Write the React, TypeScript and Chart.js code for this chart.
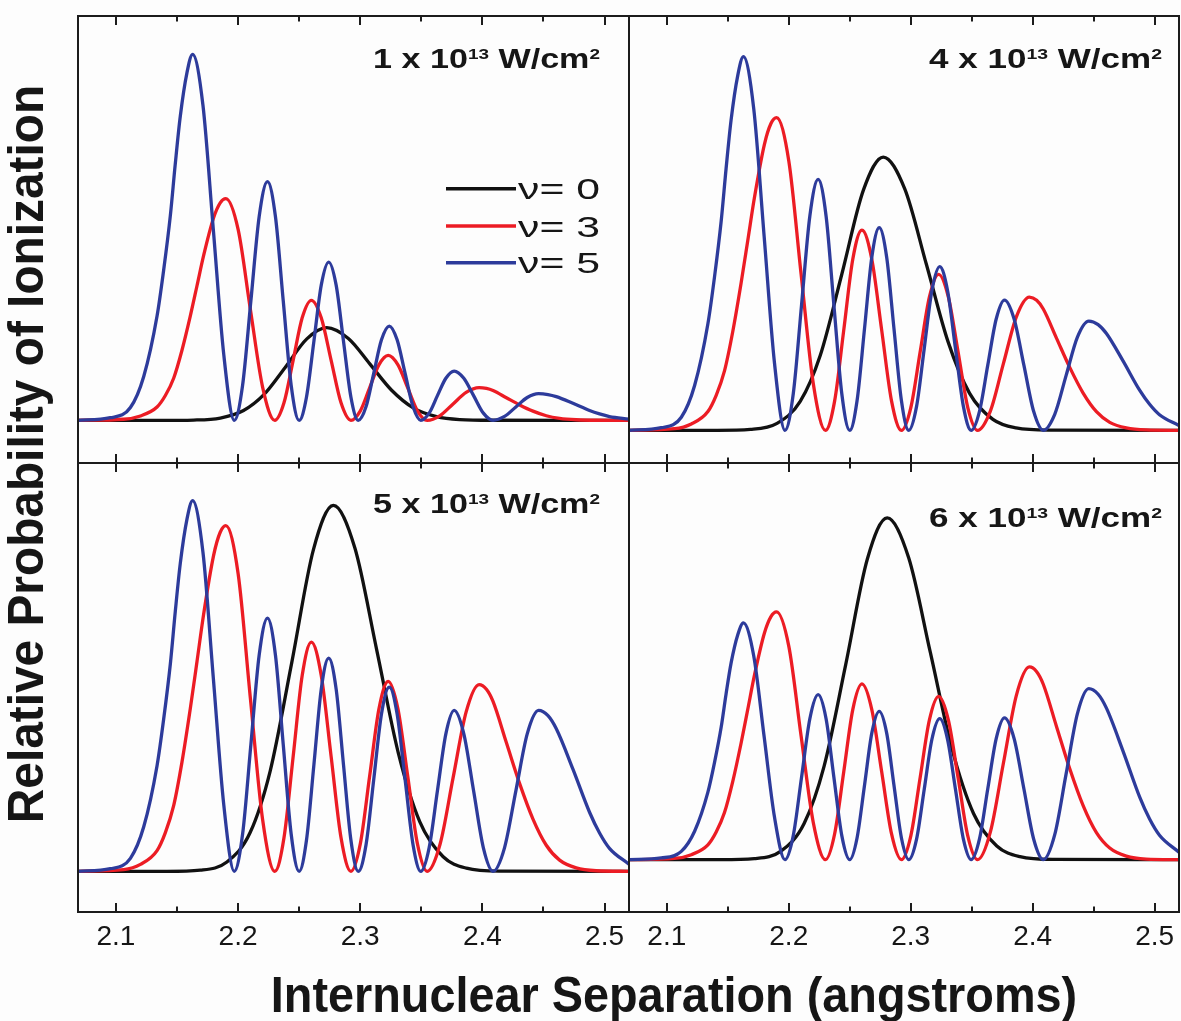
import React, { useEffect, useLayoutEffect, useRef } from 'react';
import { Chart, registerables } from 'chart.js';

Chart.register(...registerables);

// ---------- data ----------
const X_MIN = 2.069;
const X_MAX = 2.52;
const MAJOR_TICKS = [2.1, 2.2, 2.3, 2.4, 2.5];
const MINOR_TICKS = [2.15, 2.25, 2.35, 2.45];
const SERIES_LABELS = ['ν= 0', 'ν= 3', 'ν= 5'];
const INTENSITY_PREFIX = ['1', '4', '5', '6'];

// v = 5 (shared sample positions, angstroms)
const X_V5 = [2.069, 2.0955, 2.1119, 2.1228, 2.1337, 2.1391, 2.1446, 2.1486, 2.1527, 2.1582, 2.1628,
  2.1713, 2.1798, 2.1883, 2.1969,
  2.2037, 2.2105, 2.2173, 2.2241, 2.2306, 2.237, 2.2435, 2.25,
  2.256, 2.2621, 2.2681, 2.2742, 2.2803, 2.2863, 2.2924, 2.2984,
  2.3048, 2.3111, 2.3174, 2.3238, 2.3302, 2.3367, 2.3432, 2.3496,
  2.3564, 2.3632, 2.3701, 2.3769, 2.3848, 2.3928, 2.4008, 2.4087,
  2.4181, 2.4274, 2.4367, 2.446, 2.4537, 2.4605, 2.4741, 2.4877, 2.4959, 2.504, 2.52];
const V5_1E13 = [0, 0.026, 0.128, 0.439, 1.043, 1.501, 2.05, 2.562, 3.038, 3.477, 3.66,
  3.148, 1.903, 0.659, 0,
  0.349, 1.194, 2.038, 2.387, 2.038, 1.194, 0.349, 0,
  0.231, 0.792, 1.352, 1.583, 1.352, 0.792, 0.231, 0,
  0.138, 0.472, 0.805, 0.943, 0.805, 0.472, 0.138, 0,
  0.072, 0.247, 0.421, 0.493, 0.421, 0.247, 0.072, 0,
  0.039, 0.134, 0.228, 0.267, 0.258, 0.237, 0.17, 0.098, 0.064, 0.038, 0.012];
const V5_4E13 = [0, 0.026, 0.131, 0.448, 1.065, 1.532, 2.093, 2.616, 3.102, 3.55, 3.737,
  3.214, 1.943, 0.673, 0,
  0.366, 1.255, 2.144, 2.51, 2.144, 1.255, 0.366, 0,
  0.296, 1.014, 1.731, 2.027, 1.731, 1.014, 0.296, 0,
  0.239, 0.819, 1.398, 1.637, 1.398, 0.819, 0.239, 0,
  0.19, 0.652, 1.113, 1.303, 1.113, 0.652, 0.19, 0,
  0.16, 0.547, 0.933, 1.093, 1.057, 0.968, 0.694, 0.401, 0.26, 0.156, 0.048];
const V5_5E13 = [0, 0.026, 0.13, 0.445, 1.056, 1.52, 2.076, 2.595, 3.077, 3.522, 3.707,
  3.188, 1.928, 0.667, 0,
  0.37, 1.267, 2.163, 2.533, 2.163, 1.267, 0.37, 0,
  0.311, 1.067, 1.822, 2.133, 1.822, 1.067, 0.311, 0,
  0.269, 0.922, 1.574, 1.843, 1.574, 0.922, 0.269, 0,
  0.235, 0.805, 1.375, 1.61, 1.375, 0.805, 0.235, 0,
  0.235, 0.805, 1.375, 1.61, 1.557, 1.426, 1.022, 0.591, 0.383, 0.23, 0.071];
const V5_6E13 = [0, 0.017, 0.083, 0.284, 0.675, 0.97, 1.326, 1.657, 1.965, 2.249, 2.367,
  2.036, 1.231, 0.426, 0,
  0.241, 0.825, 1.409, 1.65, 1.409, 0.825, 0.241, 0,
  0.217, 0.742, 1.266, 1.483, 1.266, 0.742, 0.217, 0,
  0.206, 0.705, 1.204, 1.41, 1.204, 0.705, 0.206, 0,
  0.207, 0.709, 1.21, 1.417, 1.21, 0.709, 0.207, 0,
  0.25, 0.855, 1.46, 1.71, 1.654, 1.515, 1.086, 0.628, 0.407, 0.245, 0.075];

// v = 3
const X_V3 = [2.069, 2.1064, 2.1201, 2.1337, 2.1405, 2.1473, 2.1541, 2.1609, 2.1664, 2.1718, 2.18, 2.1854, 2.19,
  2.2001, 2.2101, 2.2201, 2.2301,
  2.2376, 2.2451, 2.2525, 2.26, 2.2681, 2.2762, 2.2843, 2.2924,
  2.3001, 2.3077, 2.3153, 2.3229, 2.3309, 2.3389, 2.3468, 2.3548,
  2.3654, 2.376, 2.3867, 2.3973,
  2.4033, 2.4087, 2.4196, 2.4305, 2.4414, 2.4523, 2.4632, 2.4768, 2.4931, 2.52];
const V3_1E13 = [0, 0.011, 0.044, 0.133, 0.248, 0.421, 0.701, 1.042, 1.346, 1.647, 2.026, 2.175, 2.217,
  1.907, 1.109, 0.333, 0,
  0.175, 0.6, 1.025, 1.2, 1.025, 0.6, 0.175, 0,
  0.095, 0.325, 0.555, 0.65, 0.555, 0.325, 0.095, 0,
  0.048, 0.164, 0.279, 0.327,
  0.319, 0.298, 0.226, 0.154, 0.092, 0.046, 0.02, 0.006, 0.001, 0];
const V3_4E13 = [0, 0.016, 0.063, 0.188, 0.35, 0.594, 0.988, 1.47, 1.898, 2.323, 2.858, 3.068, 3.127,
  2.689, 1.564, 0.469, 0,
  0.292, 1.002, 1.711, 2.003, 1.711, 1.002, 0.292, 0,
  0.228, 0.78, 1.332, 1.56, 1.332, 0.78, 0.228, 0,
  0.195, 0.667, 1.138, 1.333,
  1.3, 1.213, 0.92, 0.627, 0.373, 0.187, 0.08, 0.024, 0.004, 0];
const V3_5E13 = [0, 0.017, 0.069, 0.207, 0.387, 0.657, 1.092, 1.625, 2.098, 2.569, 3.16, 3.391, 3.457,
  2.973, 1.729, 0.519, 0,
  0.335, 1.147, 1.958, 2.293, 1.958, 1.147, 0.335, 0,
  0.277, 0.95, 1.623, 1.9, 1.623, 0.95, 0.277, 0,
  0.273, 0.934, 1.594, 1.867,
  1.82, 1.699, 1.288, 0.877, 0.523, 0.261, 0.112, 0.034, 0.006, 0];
const V3_6E13 = [0, 0.012, 0.05, 0.149, 0.277, 0.471, 0.783, 1.164, 1.504, 1.84, 2.264, 2.43, 2.477,
  2.13, 1.239, 0.372, 0,
  0.257, 0.879, 1.5, 1.757, 1.5, 0.879, 0.257, 0,
  0.238, 0.817, 1.395, 1.633, 1.395, 0.817, 0.238, 0,
  0.281, 0.964, 1.646, 1.927,
  1.879, 1.754, 1.33, 0.906, 0.54, 0.27, 0.116, 0.035, 0.006, 0];

// v = 0
const X_V0_1E13 = [2.069, 2.1364, 2.1637, 2.1855, 2.2045, 2.2209, 2.2386, 2.2563, 2.2726, 2.2903, 2.308, 2.3257, 2.3434, 2.3625, 2.3815, 2.4088, 2.52];
const V0_1E13 = [0, 0, 0.003, 0.023, 0.098, 0.254, 0.529, 0.815, 0.927, 0.818, 0.562, 0.301, 0.125, 0.037, 0.008, 0.001, 0];
const X_V0_4E13 = [2.069, 2.1413, 2.1686, 2.1904, 2.2094, 2.2258, 2.2435, 2.2612, 2.2775, 2.2952, 2.3129, 2.3306, 2.3483, 2.3674, 2.3864, 2.4137, 2.52];
const V0_4E13 = [0, 0, 0.009, 0.069, 0.29, 0.749, 1.561, 2.402, 2.733, 2.412, 1.658, 0.887, 0.37, 0.109, 0.024, 0.002, 0];
const X_V0_5E13 = [2.069, 2.1418, 2.1691, 2.1909, 2.2099, 2.2263, 2.244, 2.2617, 2.278, 2.2957, 2.3134, 2.3311, 2.3488, 2.3679, 2.3869, 2.4142, 2.52];
const V0_5E13 = [0, 0, 0.012, 0.093, 0.388, 1.003, 2.09, 3.217, 3.66, 3.23, 2.22, 1.188, 0.495, 0.146, 0.032, 0.002, 0];
const X_V0_6E13 = [2.069, 2.1445, 2.1718, 2.1936, 2.2126, 2.229, 2.2467, 2.2644, 2.2807, 2.2984, 2.3161, 2.3338, 2.3515, 2.3706, 2.3896, 2.4169, 2.52];
const V0_6E13 = [0, 0, 0.011, 0.086, 0.362, 0.936, 1.951, 3.004, 3.417, 3.016, 2.072, 1.11, 0.462, 0.137, 0.03, 0.002, 0];

// ---------- styling / layout ----------
const FONT = '"Liberation Sans", Arial, Helvetica, sans-serif';
const COLOR_V0 = '#111111';
const COLOR_V3 = '#ec1c24';
const COLOR_V5 = '#2d3b9b';
const FRAME = '#1c1c1c';
const TEXT = '#161616';
const PAD = 10;
const AXIS_H = 50;

type Panel = {
  prefix: string;
  x0: number[]; v0: number[]; v3: number[]; v5: number[];
  yMin: number; yMax: number;
  box: { left: number; top: number; right: number; bottom: number };
  showAxis: boolean;
  label: { right: number; base: number; width: number };
  legend: boolean;
};

const PANELS: Panel[] = [
  { prefix: INTENSITY_PREFIX[0], x0: X_V0_1E13, v0: V0_1E13, v3: V3_1E13, v5: V5_1E13, yMin: -0.4267, yMax: 4.0433,
    box: { left: 78, top: 16, right: 629, bottom: 463 }, showAxis: false, label: { right: 600, base: 68, width: 227 }, legend: true },
  { prefix: INTENSITY_PREFIX[1], x0: X_V0_4E13, v0: V0_4E13, v3: V3_4E13, v5: V5_4E13, yMin: -0.3267, yMax: 4.1433,
    box: { left: 629, top: 16, right: 1179, bottom: 463 }, showAxis: false, label: { right: 1162, base: 68, width: 233 }, legend: false },
  { prefix: INTENSITY_PREFIX[2], x0: X_V0_5E13, v0: V0_5E13, v3: V3_5E13, v5: V5_5E13, yMin: -0.4067, yMax: 4.0833,
    box: { left: 78, top: 463, right: 629, bottom: 912 }, showAxis: true, label: { right: 600, base: 513, width: 227 }, legend: false },
  { prefix: INTENSITY_PREFIX[3], x0: X_V0_6E13, v0: V0_6E13, v3: V3_6E13, v5: V5_6E13, yMin: -0.5233, yMax: 3.9667,
    box: { left: 629, top: 463, right: 1179, bottom: 912 }, showAxis: true, label: { right: 1162, base: 526.5, width: 233 }, legend: false },
];

function drawIntensity(ctx: CanvasRenderingContext2D, prefix: string, right: number, base: number, target: number) {
  const segs = [
    { t: prefix + ' x 10', s: 27, r: 0 },
    { t: '13', s: 15, r: 8.6 },
    { t: ' W/cm', s: 27, r: 0 },
    { t: '2', s: 15, r: 8.6 },
  ];
  const widths = segs.map((sg) => {
    ctx.font = `bold ${sg.s}px ${FONT}`;
    return ctx.measureText(sg.t).width;
  });
  const total = widths.reduce((a, b) => a + b, 0);
  const sc = target / total;
  ctx.save();
  ctx.translate(right, base);
  ctx.scale(sc, 1);
  ctx.fillStyle = TEXT;
  ctx.textBaseline = 'alphabetic';
  ctx.textAlign = 'left';
  let x = -total;
  segs.forEach((sg, i) => {
    ctx.font = `bold ${sg.s}px ${FONT}`;
    ctx.fillText(sg.t, x, -sg.r);
    x += widths[i];
  });
  ctx.restore();
}

function drawLegend(ctx: CanvasRenderingContext2D, offX: number, offY: number) {
  const rows = [
    { y: 188.7, c: COLOR_V0, t: SERIES_LABELS[0] },
    { y: 226, c: COLOR_V3, t: SERIES_LABELS[1] },
    { y: 262.7, c: COLOR_V5, t: SERIES_LABELS[2] },
  ];
  ctx.save();
  rows.forEach((r) => {
    const y = r.y - offY;
    ctx.strokeStyle = r.c;
    ctx.lineWidth = 3.5;
    ctx.beginPath();
    ctx.moveTo(446 - offX, y);
    ctx.lineTo(516 - offX, y);
    ctx.stroke();
    ctx.font = `30px ${FONT}`;
    const w = ctx.measureText(r.t).width;
    ctx.save();
    ctx.translate(518 - offX, y + 10.7);
    ctx.scale(82 / w, 1);
    ctx.fillStyle = TEXT;
    ctx.textBaseline = 'alphabetic';
    ctx.fillText(r.t, 0, 0);
    ctx.restore();
  });
  ctx.restore();
}

function makeDecor(p: Panel, offX: number, offY: number) {
  return {
    id: 'panelDecor',
    afterDraw(chart: any) {
      const { ctx, chartArea: a } = chart;
      const xs = chart.scales.x;
      ctx.save();
      ctx.strokeStyle = FRAME;
      ctx.lineWidth = 2;
      ctx.strokeRect(a.left, a.top, a.right - a.left, a.bottom - a.top);
      const tick = (v: number, len: number) => {
        const px = Math.round(xs.getPixelForValue(v));
        ctx.beginPath();
        ctx.moveTo(px, a.top);
        ctx.lineTo(px, a.top + len);
        ctx.moveTo(px, a.bottom);
        ctx.lineTo(px, a.bottom - len);
        ctx.stroke();
      };
      MAJOR_TICKS.forEach((v) => tick(v, 9));
      MINOR_TICKS.forEach((v) => tick(v, 5.5));
      drawIntensity(ctx, p.prefix, p.label.right - offX, p.label.base - offY, p.label.width);
      if (p.legend) drawLegend(ctx, offX, offY);
      ctx.restore();
    },
  };
}

function PanelChart({ p }: { p: Panel }) {
  const ref = useRef<HTMLCanvasElement>(null);
  const offX = p.box.left - PAD;
  const offY = p.box.top - PAD;
  const width = p.box.right - p.box.left + 2 * PAD;
  const height = p.box.bottom - p.box.top + PAD + (p.showAxis ? AXIS_H : PAD);

  useEffect(() => {
    if (!ref.current) return;
    const mk = (xs: number[], ys: number[]) => xs.map((x, i) => ({ x, y: ys[i] }));
    const ds = (label: string, data: any, color: string) => ({
      label,
      data,
      borderColor: color,
      backgroundColor: color,
      borderWidth: 3.3,
      pointRadius: 0,
      fill: false,
      cubicInterpolationMode: 'monotone' as const,
    });
    const xScale: any = {
      type: 'linear',
      min: X_MIN,
      max: X_MAX,
      display: p.showAxis,
      grid: { display: false, drawTicks: false },
      border: { display: false },
      ticks: {
        stepSize: 0.1,
        includeBounds: false,
        autoSkip: false,
        maxRotation: 0,
        padding: 8,
        color: TEXT,
        font: { family: FONT, size: 28 },
        callback: (v: any) => Number(v).toFixed(1),
      },
    };
    if (p.showAxis) xScale.afterFit = (s: any) => { s.height = AXIS_H; };
    const chart = new Chart(ref.current, {
      type: 'line',
      data: {
        datasets: [
          ds(SERIES_LABELS[2], mk(X_V5, p.v5), COLOR_V5),
          ds(SERIES_LABELS[1], mk(X_V3, p.v3), COLOR_V3),
          ds(SERIES_LABELS[0], mk(p.x0, p.v0), COLOR_V0),
        ],
      },
      options: {
        animation: false,
        responsive: false,
        maintainAspectRatio: false,
        devicePixelRatio: 1,
        layout: { padding: { left: PAD, right: PAD, top: PAD, bottom: p.showAxis ? 0 : PAD } },
        plugins: { legend: { display: false }, tooltip: { enabled: false } },
        scales: {
          x: xScale,
          y: { type: 'linear', display: false, min: p.yMin, max: p.yMax },
        },
      },
      plugins: [makeDecor(p, offX, offY)],
    } as any);
    return () => chart.destroy();
  }, []);

  return (
    <canvas
      ref={ref}
      width={width}
      height={height}
      style={{ position: 'absolute', left: offX, top: offY, width, height }}
    />
  );
}

function FitText({ text, width, style, transform }: { text: string; width: number; style: React.CSSProperties; transform: (s: number) => string }) {
  const ref = useRef<HTMLDivElement>(null);
  useLayoutEffect(() => {
    const el = ref.current;
    if (!el) return;
    const w = el.offsetWidth || 1;
    el.style.transform = transform(width / w);
  }, []);
  return (
    <div ref={ref} style={{ position: 'absolute', whiteSpace: 'nowrap', color: TEXT, fontFamily: FONT, ...style }}>
      {text}
    </div>
  );
}

export default function App() {
  return (
    <div style={{ position: 'absolute', left: 0, top: 0, width: 1181, height: 1021, background: '#fdfdfd', overflow: 'hidden' }}>
      {PANELS.map((p, i) => <PanelChart key={i} p={p} />)}
      <FitText
        text="Internuclear Separation (angstroms)"
        width={806}
        style={{ left: 674, top: 969.7, fontSize: 50, fontWeight: 700, lineHeight: '50px' }}
        transform={(s) => `translateX(-50%) scaleX(${s})`}
      />
      <FitText
        text="Relative Probability of Ionization"
        width={738}
        style={{ left: 25.6, top: 454, fontSize: 50, fontWeight: 700, lineHeight: '50px' }}
        transform={(s) => `translate(-50%, -50%) rotate(-90deg) scaleX(${s})`}
      />
    </div>
  );
}
